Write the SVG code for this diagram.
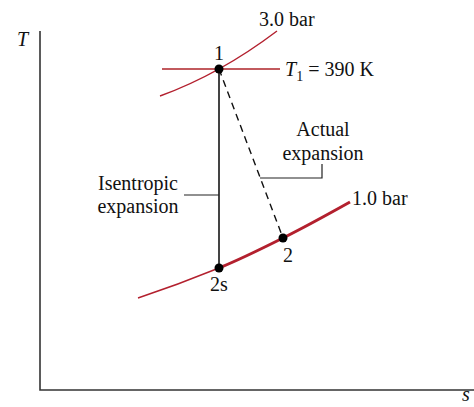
<svg xmlns="http://www.w3.org/2000/svg" width="474" height="407" viewBox="0 0 474 407">
<style>
text{font-family:"Liberation Serif","Times New Roman",serif;font-size:20px;fill:#111}
.it{font-style:italic}
.axis{stroke:#333;stroke-width:1.6;fill:none}
.iso{stroke:#b3202e;fill:none}
.tline{stroke:#c25a5e;stroke-width:1.8;fill:none}
.dot{fill:#000}
.lead{stroke:#222;stroke-width:1.2;fill:none}
</style>
<rect width="474" height="407" fill="#fff"/>
<g id="axes">
<path class="axis" d="M40,31 V390 H474"/>
<text class="it" x="17" y="46">T</text>
<text class="it" x="462" y="401">s</text>
</g>
<g id="isobar-3bar">
<path class="iso" stroke-width="1.4" d="M160,96 Q219.5,74.5 277,31"/>
<text x="259" y="26">3.0 bar</text>
</g>
<g id="isotherm-T1">
<path class="tline" d="M162,69 H280"/>
<text x="285" y="76"><tspan class="it">T</tspan><tspan font-size="14" dy="5">1</tspan><tspan dy="-5"> = 390 K</tspan></text>
</g>
<g id="isobar-1bar">
<path class="iso" stroke-width="1.4" d="M138,298 C165,289 192,279 219,268"/>
<path class="iso" stroke-width="3" d="M219,268 C240.3,259.3 261.7,248.7 283,238 C305.3,226.8 327.7,214.5 350,202"/>
<text x="352" y="205">1.0 bar</text>
</g>
<g id="connectors">
<path d="M219,69 V268" stroke="#444" stroke-width="2" fill="none"/>
<path d="M219,69 L283,238" stroke="#111" stroke-width="1.4" stroke-dasharray="7,5" fill="none"/>
<path class="lead" d="M184,195 H219"/>
<path class="lead" d="M260,178 H322 V164"/>
</g>
<g id="state-1">
<circle class="dot" cx="219" cy="69" r="4.5"/>
<text x="219" y="60" text-anchor="middle">1</text>
</g>
<g id="state-2s">
<circle class="dot" cx="219" cy="268" r="4.5"/>
<text x="219" y="291" text-anchor="middle">2s</text>
</g>
<g id="state-2">
<circle class="dot" cx="283" cy="238" r="4.5"/>
<text x="288" y="262" text-anchor="middle">2</text>
</g>
<g id="label-isentropic">
<text x="138" y="190" text-anchor="middle">Isentropic</text>
<text x="138" y="213" text-anchor="middle">expansion</text>
</g>
<g id="label-actual">
<text x="323" y="136" text-anchor="middle">Actual</text>
<text x="323" y="160" text-anchor="middle">expansion</text>
</g>
</svg>
